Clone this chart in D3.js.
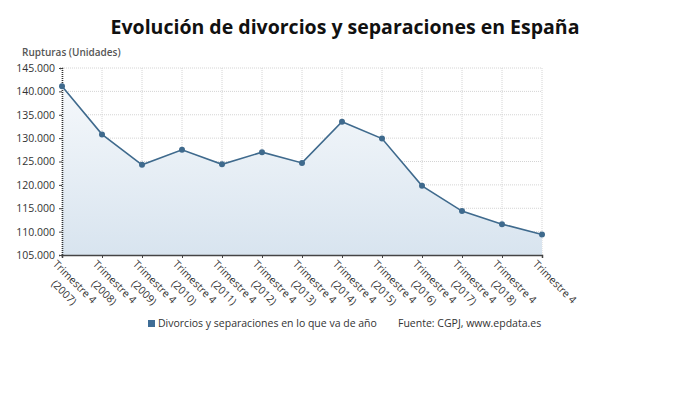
<!DOCTYPE html>
<html><head><meta charset="utf-8">
<script src="https://cdn.jsdelivr.net/npm/d3@7/dist/d3.min.js"></script>
<style>
body{margin:0;background:#fff;}
text{font-family:"Open Sans",sans-serif;}
</style></head>
<body><svg id="c" width="690" height="406"></svg>
<script>
const categories = ["Trimestre 4 (2007)","Trimestre 4 (2008)","Trimestre 4 (2009)","Trimestre 4 (2010)","Trimestre 4 (2011)","Trimestre 4 (2012)","Trimestre 4 (2013)","Trimestre 4 (2014)","Trimestre 4 (2015)","Trimestre 4 (2016)","Trimestre 4 (2017)","Trimestre 4 (2018)","Trimestre 4"];
const values = [141100,130800,124300,127500,124400,127000,124700,133500,129900,119800,114400,111600,109400];
const yTicks = [105000,110000,115000,120000,125000,130000,135000,140000,145000];
const title = "Evolución de divorcios y separaciones en España";
const yTitle = "Rupturas (Unidades)";
const seriesName = "Divorcios y separaciones en lo que va de año";
const source = "Fuente: CGPJ, www.epdata.es";

const svg = d3.select("#c");
const L = 62, R = 542, T = 68, B = 255;
const x = d3.scalePoint().domain(categories).range([L, R]);
const y = d3.scaleLinear().domain([105000,145000]).range([B, T]);
const fmt = v => d3.format(",")(v).replace(/,/g, ".");

svg.append("text").attr("x",345).attr("y",34).attr("text-anchor","middle")
  .attr("font-size",19.5).attr("font-weight","bold").attr("fill","#111").text(title);
svg.append("text").attr("x",22).attr("y",56).attr("font-size",10)
  .attr("font-weight",600).attr("fill","#555").text(yTitle);

const defs = svg.append("defs");
const g = defs.append("linearGradient").attr("id","ag").attr("x1",0).attr("y1",0).attr("x2",0).attr("y2",1);
g.append("stop").attr("offset","0%").attr("stop-color","#f5f8fb");
g.append("stop").attr("offset","100%").attr("stop-color","#d8e4ef");

// grid
svg.append("g").selectAll("line").data(yTicks).join("line")
  .attr("x1",L).attr("x2",R).attr("y1",d=>y(d)).attr("y2",d=>y(d))
  .attr("stroke","#d4d4d4").attr("stroke-dasharray","1,1");
svg.append("g").selectAll("line").data(categories).join("line")
  .attr("x1",d=>x(d)).attr("x2",d=>x(d)).attr("y1",T).attr("y2",B)
  .attr("stroke","#d4d4d4").attr("stroke-dasharray","1,1");

// area + line
const pts = categories.map((c,i)=>({c,v:values[i]}));
svg.append("path").datum(pts).attr("fill","url(#ag)")
  .attr("d", d3.area().x(d=>x(d.c)).y0(B).y1(d=>y(d.v)));
svg.append("path").datum(pts).attr("fill","none").attr("stroke","#3f6a8d").attr("stroke-width",1.6)
  .attr("d", d3.line().x(d=>x(d.c)).y(d=>y(d.v)));

// axes
const ya = svg.append("g").attr("transform",`translate(${L},0)`)
  .call(d3.axisLeft(y).tickValues(yTicks).tickFormat(fmt).tickSize(3).tickPadding(4));
ya.select(".domain").attr("stroke","#333").attr("stroke-width",1.6).attr("stroke-dasharray","1,1");
ya.selectAll(".tick line").attr("stroke","#444");
ya.selectAll("text").attr("font-size",10.5).attr("fill","#333").attr("font-family","Open Sans");

const xa = svg.append("g").attr("transform",`translate(0,${B})`)
  .call(d3.axisBottom(x).tickSize(3).tickFormat(""));
xa.select(".domain").attr("stroke","#444").attr("stroke-width",1.5);
xa.selectAll(".tick line").attr("stroke","#444");

// rotated labels
const lab = svg.append("g").selectAll("g").data(categories).join("g")
  .attr("transform", d=>`translate(${x(d)-4},${B+4}) rotate(45)`);
lab.each(function(d){
  const gg = d3.select(this);
  const m = d.match(/^(.*?)\s*(\(.*\))?$/);
  const t1 = gg.append("text").attr("x",0).attr("y",8).attr("font-size",10.5).attr("fill","#333").text(m[1]);
  if (m[2]) {
    const w = t1.node().getComputedTextLength();
    gg.append("text").attr("x",w/2).attr("y",23).attr("text-anchor","middle")
      .attr("font-size",10.5).attr("fill","#333").text(m[2]);
  }
});

// markers
svg.append("g").selectAll("circle").data(pts).join("circle")
  .attr("cx",d=>x(d.c)).attr("cy",d=>y(d.v)).attr("r",3).attr("fill","#3f6a8d");

// legend
svg.append("rect").attr("x",148).attr("y",320).attr("width",7).attr("height",7).attr("fill","#3f6d96");
svg.append("text").attr("x",158).attr("y",327).attr("font-size",10.5).attr("fill","#333").text(seriesName);
svg.append("text").attr("x",398).attr("y",327).attr("font-size",10.5).attr("fill","#333").text(source);
</script></body></html>
